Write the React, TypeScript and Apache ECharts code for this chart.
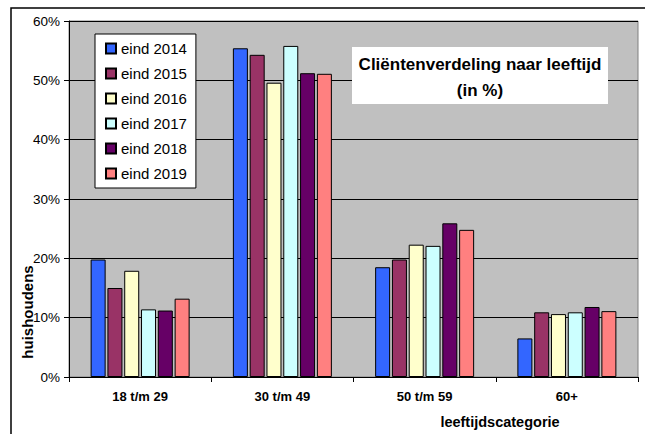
import React, { useEffect, useRef } from "react";
import * as echarts from "echarts";

const categories = ["18 t/m 29", "30 t/m 49", "50 t/m 59", "60+"];
const seriesNames = ["eind 2014", "eind 2015", "eind 2016", "eind 2017", "eind 2018", "eind 2019"];
const values2014 = [19.8, 55.4, 18.5, 6.5];
const values2015 = [15.0, 54.3, 19.8, 10.9];
const values2016 = [17.9, 49.6, 22.3, 10.6];
const values2017 = [11.4, 55.8, 22.1, 10.9];
const values2018 = [11.2, 51.2, 25.9, 11.8];
const values2019 = [13.2, 51.1, 24.8, 11.1];
const seriesColors = ["#3366FF", "#993366", "#FFFFCC", "#CCFFFF", "#660066", "#FF8080"];
const yTicks = [0, 10, 20, 30, 40, 50, 60];

const FONT = "'Liberation Sans', Arial, sans-serif";

export default function App() {
  const ref = useRef<HTMLDivElement>(null);
  useEffect(() => {
    if (!ref.current) return;
    const chart = echarts.init(ref.current, null, { renderer: "svg" });
    const allValues = [values2014, values2015, values2016, values2017, values2018, values2019];
    chart.setOption({
      animation: false,
      textStyle: { fontFamily: FONT },
      grid: {
        left: 69,
        top: 21,
        right: 7,
        bottom: 57,
        show: true,
        backgroundColor: "#C0C0C0",
        borderColor: "#808080",
        borderWidth: 1,
      },
      legend: {
        orient: "vertical",
        left: 95,
        top: 34,
        backgroundColor: "#FFFFFF",
        borderColor: "#000000",
        borderWidth: 1,
        borderRadius: 0,
        padding: [7, 9, 7, 10],
        itemWidth: 10,
        itemHeight: 10,
        itemGap: 10,
        icon: "rect",
        textStyle: { fontFamily: FONT, fontSize: 15, color: "#000" },
        data: seriesNames,
      },
      xAxis: {
        type: "category",
        data: categories,
        axisLine: { lineStyle: { color: "#000", width: 1 } },
        axisTick: { show: true, alignWithLabel: false, length: 5, lineStyle: { color: "#000" } },
        axisLabel: { fontFamily: FONT, fontSize: 13, fontWeight: "bold", color: "#000", margin: 13 },
      },
      yAxis: {
        type: "value",
        min: yTicks[0],
        max: yTicks[yTicks.length - 1],
        interval: 10,
        axisLine: { show: true, lineStyle: { color: "#000", width: 1 } },
        axisTick: { show: true, length: 5, lineStyle: { color: "#000" } },
        axisLabel: { fontFamily: FONT, fontSize: 13.5, color: "#000", margin: 9, formatter: "{value}%" },
        splitLine: { show: true, lineStyle: { color: "#000", width: 1 } },
      },
      series: seriesNames.map((name, i) => ({
        name,
        type: "bar",
        data: allValues[i],
        barWidth: 15,
        barGap: "12%",
        itemStyle: { color: seriesColors[i], borderColor: "#000", borderWidth: 1 },
      })),
      graphic: [
        {
          type: "rect",
          shape: { x: 11, y: 8, width: 700, height: 500 },
          style: { fill: "none", stroke: "#000", lineWidth: 1.5 },
          silent: true,
          z: -1,
        },
        {
          type: "rect",
          shape: { x: 352, y: 47, width: 256, height: 57 },
          style: { fill: "#FFFFFF" },
          z: 10,
        },
        {
          type: "text",
          x: 480,
          y: 64,
          z: 11,
          style: {
            text: "Cliëntenverdeling naar leeftijd",
            fill: "#000",
            font: `bold 17px ${FONT}`,
            textAlign: "center",
            textVerticalAlign: "middle",
          },
        },
        {
          type: "text",
          x: 480,
          y: 90,
          z: 11,
          style: {
            text: "(in %)",
            fill: "#000",
            font: `bold 17px ${FONT}`,
            textAlign: "center",
            textVerticalAlign: "middle",
          },
        },
        {
          type: "text",
          x: 27,
          y: 312,
          rotation: Math.PI / 2,
          style: {
            text: "huishoudens",
            fill: "#000",
            font: `bold 15px ${FONT}`,
            textAlign: "center",
            textVerticalAlign: "middle",
          },
        },
        {
          type: "text",
          x: 500,
          y: 422,
          style: {
            text: "leeftijdscategorie",
            fill: "#000",
            font: `bold 14.5px ${FONT}`,
            textAlign: "center",
            textVerticalAlign: "middle",
          },
        },
      ],
    });
    return () => chart.dispose();
  }, []);
  return (
    <div
      ref={ref}
      style={{ position: "fixed", left: 0, top: 0, width: 645, height: 434, background: "#FFFFFF" }}
    />
  );
}
